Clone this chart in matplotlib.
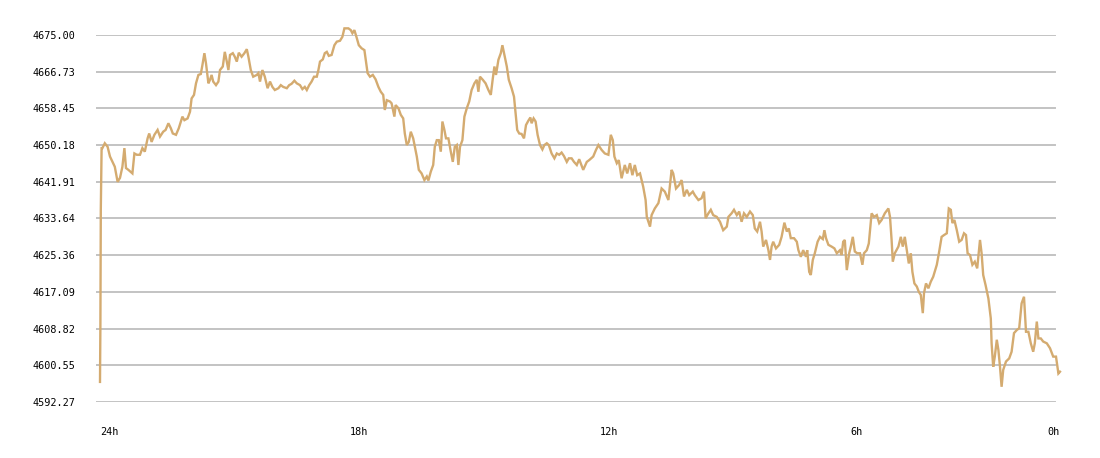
import matplotlib
matplotlib.use("Agg")
import matplotlib.pyplot as plt

# ---- data ----
hours_ago = [24.0, 23.99, 23.98, 23.96, 23.94, 23.88, 23.81, 23.75, 23.67, 23.63, 23.56, 23.5, 23.44, 23.39, 23.35, 23.29, 23.19, 23.14, 23.08, 23.0,
             22.94, 22.88, 22.81, 22.77, 22.71, 22.64, 22.56, 22.5, 22.42, 22.36, 22.29, 22.23, 22.18, 22.1, 22.03, 21.94, 21.89, 21.81, 21.75, 21.71,
             21.65, 21.6, 21.54, 21.48, 21.44, 21.39, 21.35, 21.29, 21.25, 21.21, 21.17, 21.1, 21.04, 21.0, 20.93, 20.88, 20.83, 20.79, 20.75, 20.68,
             20.63, 20.58, 20.53, 20.46, 20.39, 20.33, 20.29, 20.23, 20.17, 20.08, 20.04, 20.0, 19.94, 19.88, 19.81, 19.75, 19.69, 19.63, 19.54, 19.48,
             19.42, 19.33, 19.27, 19.21, 19.14, 19.08, 19.0, 18.94, 18.88, 18.83, 18.77, 18.71, 18.65, 18.58, 18.54, 18.5, 18.43, 18.38, 18.33, 18.28,
             18.21, 18.14, 18.08, 18.0, 17.94, 17.89, 17.79, 17.73, 17.69, 17.64, 17.58, 17.53, 17.46, 17.39, 17.35, 17.31, 17.25, 17.18, 17.11, 17.04,
             16.98, 16.92, 16.88, 16.83, 16.75, 16.71, 16.64, 16.61, 16.54, 16.48, 16.42, 16.38, 16.33, 16.28, 16.23, 16.17, 16.08, 16.03, 15.96, 15.89,
             15.83, 15.79, 15.73, 15.67, 15.63, 15.58, 15.53, 15.48, 15.44, 15.39, 15.35, 15.29, 15.23, 15.18, 15.13, 15.08, 15.04, 15.0, 14.94, 14.89,
             14.83, 14.77, 14.71, 14.64, 14.58, 14.54, 14.5, 14.43, 14.36, 14.29, 14.23, 14.18, 14.14, 14.1, 14.04, 13.98, 13.94, 13.89, 13.83, 13.78,
             13.71, 13.65, 13.61, 13.57, 13.52, 13.46, 13.4, 13.35, 13.29, 13.24, 13.21, 13.16, 13.11, 13.06, 13.0, 12.94, 12.89, 12.83, 12.78, 12.71,
             12.64, 12.58, 12.52, 12.46, 12.4, 12.33, 12.28, 12.21, 12.15, 12.08, 12.02, 11.92, 11.83, 11.77, 11.67, 11.6, 11.54, 11.46, 11.38, 11.29,
             11.23, 11.18, 11.14, 11.08, 11.03, 10.96, 10.88, 10.82, 10.75, 10.69, 10.63, 10.57, 10.5, 10.42, 10.36, 10.33, 10.29, 10.25, 10.21, 10.13,
             10.04, 9.96, 9.88, 9.79, 9.71, 9.67, 9.6, 9.52, 9.46, 9.4, 9.33, 9.27, 9.18, 9.13, 9.04, 8.96, 8.9, 8.86, 8.79, 8.73,
             8.67, 8.58, 8.5, 8.42, 8.33, 8.29, 8.21, 8.15, 8.08, 8.02, 7.96, 7.9, 7.83, 7.75, 7.68, 7.63, 7.57, 7.5, 7.46, 7.42,
             7.35, 7.29, 7.25, 7.21, 7.17, 7.1, 7.02, 6.96, 6.89, 6.83, 6.78, 6.73, 6.65, 6.58, 6.54, 6.48, 6.42, 6.35, 6.32, 6.27,
             6.23, 6.18, 6.13, 6.06, 6.0, 5.93, 5.89, 5.85, 5.79, 5.71, 5.64, 5.58, 5.5, 5.46, 5.42, 5.38, 5.33, 5.27, 5.23, 5.18,
             5.13, 5.07, 5.0, 4.94, 4.9, 4.83, 4.78, 4.71, 4.65, 4.58, 4.52, 4.46, 4.38, 4.29, 4.25, 4.21, 4.18, 4.13, 4.04, 3.98,
             3.93, 3.88, 3.83, 3.78, 3.73, 3.69, 3.64, 3.58, 3.53, 3.48, 3.43, 3.4, 3.35, 3.29, 3.23, 3.17, 3.08, 3.02, 2.96, 2.9,
             2.83, 2.78, 2.73, 2.69, 2.64, 2.58, 2.52, 2.46, 2.4, 2.35, 2.31, 2.25, 2.19, 2.13, 2.07, 2.0, 1.96, 1.92, 1.86, 1.79,
             1.73, 1.71, 1.67, 1.63, 1.58, 1.54, 1.5, 1.46, 1.42, 1.35, 1.27, 1.21, 1.15, 1.08, 1.02, 0.96, 0.9, 0.85, 0.79, 0.73,
             0.67, 0.63, 0.58, 0.54, 0.48, 0.42, 0.33, 0.25, 0.17, 0.1, 0.04, 0.0]

price = [4596.8, 4609.9, 4635.6, 4649.5, 4649.5, 4650.6, 4649.8, 4647.6, 4646.1, 4645.3, 4641.9, 4642.8, 4645.3, 4649.5, 4645.0, 4644.6, 4643.8, 4648.3, 4648.0, 4648.0,
         4649.5, 4648.7, 4651.7, 4652.8, 4650.9, 4652.5, 4653.6, 4652.1, 4653.2, 4653.6, 4655.1, 4654.0, 4652.8, 4652.5, 4654.0, 4656.6, 4655.8, 4656.2, 4657.7, 4660.7,
         4661.5, 4664.1, 4666.0, 4666.2, 4668.2, 4670.9, 4668.6, 4664.1, 4664.9, 4666.0, 4664.5, 4663.7, 4664.5, 4667.1, 4667.9, 4671.2, 4669.0, 4667.1, 4670.5, 4670.9,
         4670.1, 4669.0, 4671.0, 4670.1, 4670.9, 4671.8, 4670.1, 4667.1, 4665.6, 4666.0, 4666.4, 4664.5, 4667.1, 4665.6, 4663.0, 4664.5, 4663.3, 4662.6, 4663.0, 4663.7,
         4663.3, 4663.0, 4663.7, 4664.0, 4664.7, 4664.1, 4663.7, 4662.8, 4663.3, 4662.6, 4663.7, 4664.5, 4665.6, 4665.6, 4667.1, 4669.0, 4669.5, 4670.9, 4671.2, 4670.3,
         4670.5, 4672.7, 4673.5, 4673.7, 4674.6, 4676.5, 4676.5, 4676.1, 4675.4, 4676.1, 4674.3, 4672.7, 4672.0, 4671.6, 4669.0, 4666.4, 4665.6, 4666.0, 4665.0, 4663.3,
         4662.2, 4661.5, 4658.1, 4660.3, 4660.0, 4659.6, 4656.6, 4659.2, 4658.5, 4657.0, 4656.2, 4652.8, 4650.2, 4650.9, 4653.2, 4651.7, 4647.6, 4644.6, 4643.8, 4642.3,
         4643.1, 4642.2, 4644.2, 4645.7, 4649.8, 4651.3, 4651.3, 4648.7, 4655.5, 4653.6, 4651.7, 4651.7, 4648.7, 4646.4, 4649.8, 4650.2, 4645.7, 4649.8, 4651.3, 4656.6,
         4658.5, 4660.0, 4662.6, 4664.1, 4664.9, 4662.2, 4665.6, 4664.9, 4664.1, 4662.6, 4661.5, 4665.2, 4667.9, 4666.0, 4669.4, 4670.9, 4672.7, 4670.5, 4667.9, 4664.9,
         4663.0, 4661.1, 4657.4, 4653.6, 4652.8, 4652.7, 4651.7, 4654.7, 4655.7, 4656.4, 4655.1, 4656.2, 4655.5, 4652.5, 4650.2, 4649.2, 4650.2, 4650.6, 4650.2, 4648.3,
         4647.2, 4648.3, 4648.0, 4648.5, 4647.7, 4646.4, 4647.2, 4647.2, 4646.4, 4645.7, 4647.0, 4644.6, 4646.4, 4646.8, 4647.6, 4649.1, 4650.2, 4649.1, 4648.3, 4648.0,
         4652.5, 4651.3, 4647.6, 4646.1, 4646.8, 4642.7, 4645.7, 4643.8, 4646.1, 4643.4, 4645.7, 4643.4, 4643.8, 4640.8, 4637.8, 4634.0, 4632.9, 4631.8, 4634.4, 4635.9,
         4637.1, 4640.4, 4639.7, 4637.8, 4644.6, 4643.8, 4640.4, 4641.2, 4642.3, 4638.6, 4640.1, 4638.9, 4639.7, 4638.9, 4637.8, 4638.2, 4639.7, 4633.7, 4634.8, 4635.6,
         4634.4, 4634.0, 4632.9, 4631.0, 4631.8, 4634.0, 4634.8, 4635.6, 4634.4, 4635.2, 4632.9, 4634.8, 4634.0, 4635.2, 4634.4, 4631.4, 4630.7, 4632.9, 4630.7, 4627.3,
         4628.8, 4626.5, 4624.3, 4627.3, 4628.4, 4626.9, 4627.7, 4629.5, 4632.7, 4630.7, 4631.4, 4629.2, 4629.2, 4628.4, 4626.5, 4625.0, 4626.5, 4625.0, 4626.5, 4621.6,
         4620.9, 4624.3, 4625.8, 4628.4, 4629.5, 4629.0, 4631.0, 4629.2, 4627.7, 4627.3, 4626.9, 4625.8, 4626.5, 4625.4, 4628.4, 4628.8, 4622.0, 4625.8, 4627.3, 4629.5,
         4626.2, 4625.8, 4625.8, 4623.2, 4625.8, 4626.5, 4628.0, 4634.8, 4634.0, 4634.4, 4632.6, 4633.3, 4634.8, 4635.9, 4634.0, 4628.8, 4623.9, 4625.8, 4627.3, 4629.5,
         4627.3, 4629.5, 4626.5, 4623.5, 4625.8, 4621.6, 4619.0, 4618.3, 4617.1, 4616.4, 4612.3, 4616.8, 4619.0, 4617.9, 4619.4, 4620.5, 4623.2, 4626.2, 4629.5, 4629.9,
         4630.3, 4635.9, 4635.6, 4632.6, 4633.3, 4631.0, 4628.4, 4628.8, 4630.3, 4629.9, 4625.8, 4625.4, 4623.2, 4623.9, 4622.4, 4628.8, 4625.8, 4620.9, 4618.6, 4615.6,
         4611.1, 4605.5, 4600.2, 4602.5, 4606.3, 4604.0, 4600.2, 4595.7, 4599.5, 4601.4, 4602.1, 4603.6, 4607.8, 4608.5, 4608.9, 4614.5, 4616.0, 4608.1, 4608.1, 4605.5,
         4603.6, 4605.5, 4610.4, 4606.6, 4606.6, 4605.9, 4605.5, 4604.4, 4602.5, 4602.5, 4598.7, 4599.1]

y_ticks = [4592.27, 4600.55, 4608.82, 4617.09, 4625.36, 4633.64, 4641.91, 4650.18, 4658.45, 4666.73, 4675.00]
x_tick_pos = [24.0, 17.75, 11.5, 5.25, 0.0]
x_tick_labels = ["24h", "18h", "12h", "6h", "0h"]

# ---- figure ----
W, H = 1100, 458
fig = plt.figure(figsize=(W / 100, H / 100), dpi=100)
fig.patch.set_facecolor("white")
ax_left, ax_right, ax_top, ax_bot = 96, 1062, 35, 402
ax = fig.add_axes([ax_left / W, (H - ax_bot) / H, (ax_right - ax_left) / W, (ax_bot - ax_top) / H])
ax.set_facecolor("white")

for v in y_ticks:
    ax.axhline(v, xmin=0, xmax=(1055 - ax_left) / (ax_right - ax_left), color="#c3c3c3", lw=1.4, zorder=1)

ax.plot(hours_ago, price, color="#d4ab70", lw=1.7, solid_joinstyle="miter", zorder=3, clip_on=False)

ax.set_xlim(24.1, -0.05)
ax.set_ylim(y_ticks[0], y_ticks[-1])

for s in ax.spines.values():
    s.set_visible(False)

mono = "DejaVu Sans Mono"
ax.set_yticks(y_ticks)
ax.set_yticklabels([f"{v:.2f}" for v in y_ticks], family=mono, fontsize=7.3, color="black")
ax.tick_params(axis="y", length=0, pad=14.5)

ax.set_xticks(x_tick_pos)
ax.set_xticklabels(x_tick_labels, family=mono, fontsize=7.3, color="black")
ax.tick_params(axis="x", length=0, pad=18)
labels = ax.get_xticklabels()
for i, lbl in enumerate(labels):
    lbl.set_ha("right" if i == len(labels) - 1 else "left")

fig.savefig("out.png", dpi=100, facecolor="white")
